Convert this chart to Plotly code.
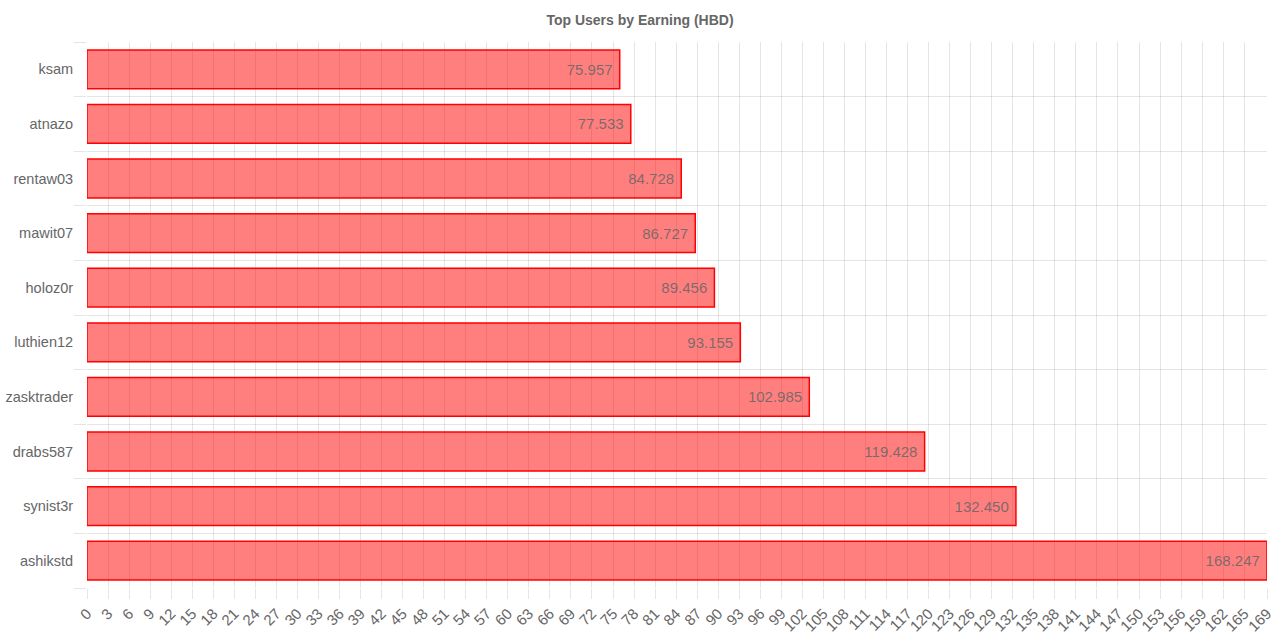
import plotly.graph_objects as go

users = ["ksam", "atnazo", "rentaw03", "mawit07", "holoz0r", "luthien12",
         "zasktrader", "drabs587", "synist3r", "ashikstd"]
earnings = [75.957, 77.533, 84.728, 86.727, 89.456, 93.155,
            102.985, 119.428, 132.450, 168.247]
x_tick_labels = [str(v) for v in range(0, 166, 3)] + ["169"]

n = len(users)
ypos = list(range(n))
x_max = max(earnings)
x_tickvals = list(range(0, 166, 3)) + [x_max]

fig = go.Figure(go.Bar(
    x=earnings, y=ypos, orientation="h",
    marker=dict(color="rgba(255,0,0,0.5)", line=dict(color="rgb(255,0,0)", width=1.5)),
    text=[f"{v:.3f}\u00a0" for v in earnings],
    textposition="inside", insidetextanchor="end",
    textfont=dict(family="Liberation Sans, Arial", size=15, color="rgba(102,102,102,0.85)"),
    cliponaxis=False,
))

grid = "rgba(0,0,0,0.1)"
fig.update_layout(
    width=1280, height=640,
    margin=dict(l=87, r=13, t=42, b=52),
    paper_bgcolor="white", plot_bgcolor="white",
    bargap=0.29,
    showlegend=False,
    font=dict(family="Liberation Sans, Arial", size=15, color="#666"),
    title=dict(text="<b>Top Users by Earning (HBD)</b>", x=0.5, xanchor="center",
               y=0.968, yanchor="middle", font=dict(size=14, color="#666")),
    xaxis=dict(range=[0, x_max], tickvals=x_tickvals, ticktext=x_tick_labels,
               tickangle=-45, showgrid=True, gridcolor=grid, gridwidth=1,
               zeroline=False, showline=False, automargin=False,
               ticks="outside", ticklen=10, tickcolor=grid,
               tickfont=dict(size=15, color="#666")),
    yaxis=dict(range=[n - 0.5, -0.5], tickvals=ypos, ticktext=users,
               showgrid=False, zeroline=False, showline=False, automargin=False,
               ticks="outside", ticklen=10, tickcolor="rgba(0,0,0,0)",
               tickfont=dict(size=14.5, color="#666"),
               minor=dict(tickvals=[i - 0.5 for i in range(n + 1)], showgrid=True,
                          gridcolor=grid, gridwidth=1, ticks="outside", ticklen=12,
                          tickcolor=grid)),
)

fig.write_html("out.html")
